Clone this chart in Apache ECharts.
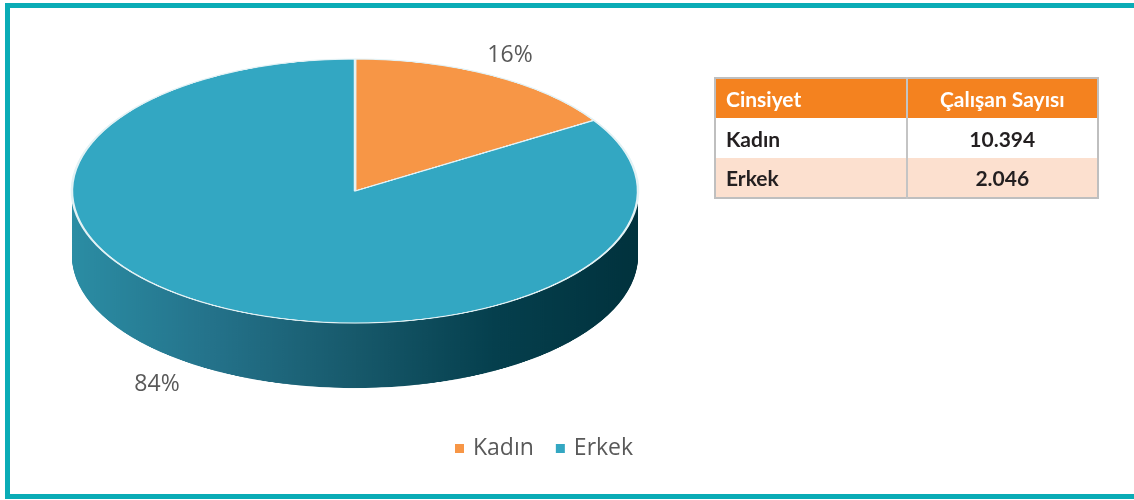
<!DOCTYPE html>
<html>
<head>
<meta charset="utf-8">
<script src="https://cdn.jsdelivr.net/npm/echarts@6/dist/echarts.min.js"></script>
<style>
  html, body { margin: 0; padding: 0; width: 1134px; height: 500px; overflow: hidden; background: #ffffff; }
  #frame { position: absolute; left: 5px; top: 3px; width: 1150px; height: 496px; box-sizing: border-box; border: 5px solid #0AACB6; }
  #pie3d { position: absolute; left: 0; width: 1134px; height: 1000px; }
  #overlay { position: absolute; left: 0; top: 0; width: 1134px; height: 500px; }
  #tbl { position: absolute; left: 714px; top: 77px; width: 385px; border-collapse: collapse; table-layout: fixed;
         font-family: Lato, "Open Sans", sans-serif; font-weight: 700; font-size: 21px; border: 2px solid #BFBFBF; }
  #tbl th, #tbl td { height: 40px; padding: 0 0 0 10px; box-sizing: border-box; }
  #tbl th { background: #F4821F; color: #ffffff; font-weight: 700; }
  #tbl td { color: #231F20; }
  #tbl tr.alt td { background: #FCE0CF; }
  #tbl .c1 { text-align: left; border-right: 2px solid #C4C4C4; }
  #tbl .c2 { text-align: center; padding: 0; }
</style>
</head>
<body>
<div id="frame"></div>
<div id="pie3d"></div>
<div id="overlay"></div>
<table id="tbl"><thead></thead><tbody></tbody></table>
<script>
// ---- data ----
const categories = ['Kadın', 'Erkek'];
const shares = [16, 84];
const tableHeader = ['Cinsiyet', 'Çalışan Sayısı'];
const tableCol1 = ['Kadın', 'Erkek'];
const tableCol2 = ['10.394', '2.046'];

// ---- styles / layout ----
const topColors = ['#F79646', '#33A7C2'];
const CX = 355, CY = 191, R = 283, RY = 132, DEPTH = 65;
const K = RY / R;
const OFF = 150; // canvas offset so the whole circle fits before flattening

function sideGradient() {
  return new echarts.graphic.LinearGradient(0, 0, 1, 0, [
    { offset: 0, color: '#2B8DA4' },
    { offset: 0.25, color: '#24728A' },
    { offset: 0.5, color: '#17596B' },
    { offset: 0.75, color: '#053F4D' },
    { offset: 1, color: '#01323D' }
  ]);
}

// ---- table ----
const thead = document.querySelector('#tbl thead');
const htr = document.createElement('tr');
tableHeader.forEach((h, i) => {
  const th = document.createElement('th');
  th.className = i === 0 ? 'c1' : 'c2';
  th.textContent = h;
  htr.appendChild(th);
});
thead.appendChild(htr);
const tbody = document.querySelector('#tbl tbody');
tableCol1.forEach((c, i) => {
  const tr = document.createElement('tr');
  if (i % 2 === 1) tr.className = 'alt';
  const a = document.createElement('td'); a.className = 'c1'; a.textContent = c;
  const b = document.createElement('td'); b.className = 'c2'; b.textContent = tableCol2[i];
  tr.appendChild(a); tr.appendChild(b);
  tbody.appendChild(tr);
});

// ---- 3D pie (flattened with a vertical scale) ----
const pieEl = document.getElementById('pie3d');
pieEl.style.top = (-OFF) + 'px';
pieEl.style.transformOrigin = '0 ' + (CY + OFF) + 'px';
pieEl.style.transform = 'scaleY(' + K + ')';
const pieChart = echarts.init(pieEl, null, { renderer: 'canvas' });

function pieData(colors) {
  return categories.map((c, i) => ({ name: c, value: shares[i], itemStyle: { color: colors[i] } }));
}
const series = [];
const depthU = DEPTH / K;
for (let d = depthU; d > 0; d -= 1.5) {
  series.push({
    type: 'pie', silent: true, center: [CX, CY + OFF + d], radius: R, z: 1,
    label: { show: false }, labelLine: { show: false },
    data: pieData(['#B4652A', sideGradient()])
  });
}
series.push({
  type: 'pie', silent: true, center: [CX, CY + OFF], radius: R, z: 5,
  label: { show: false }, labelLine: { show: false },
  itemStyle: { borderColor: '#E3F2F5', borderWidth: 2.5 },
  data: pieData(topColors)
});
pieChart.setOption({ animation: false, series: series });

// ---- overlay: labels + legend ----
const ov = echarts.init(document.getElementById('overlay'), null, { renderer: 'canvas' });
const labelLines = { 'Kadın': { length: 0, length2: 0, dist: -4 }, 'Erkek': { length: 0, length2: 34, dist: 5 } };
const textFont = '"Open Sans", sans-serif';
ov.setOption({
  animation: false,
  legend: {
    left: 450, top: 432, icon: 'rect', itemWidth: 9, itemHeight: 9, itemGap: 22,
    selectedMode: false,
    textStyle: { color: '#595959', fontSize: 23, fontFamily: textFont, padding: [0, 0, 0, 4] },
    data: categories.map((c, i) => ({ name: c, itemStyle: { color: topColors[i], opacity: 1 } }))
  },
  series: [{
    type: 'pie', silent: true, center: [CX, CY], radius: R,
    avoidLabelOverlap: false,
    itemStyle: { opacity: 0 },
    label: { show: true, position: 'outside', formatter: '{d}%', color: '#595959', opacity: 1,
             fontSize: 23, fontFamily: textFont },
    labelLine: { show: false },
    labelLayout: function (p) {
      const r = p.labelRect;
      const cy = r.y + r.height / 2;
      const below = cy > CY;
      return { y: CY + (cy - CY) * 0.548 + (below ? 58 : 0) };
    },
    data: categories.map((c, i) => ({
      name: c, value: shares[i], itemStyle: { color: topColors[i] },
      label: { distanceToLabelLine: labelLines[c].dist },
      labelLine: { show: false, length: labelLines[c].length, length2: labelLines[c].length2 }
    }))
  }]
});
</script>
</body>
</html>
